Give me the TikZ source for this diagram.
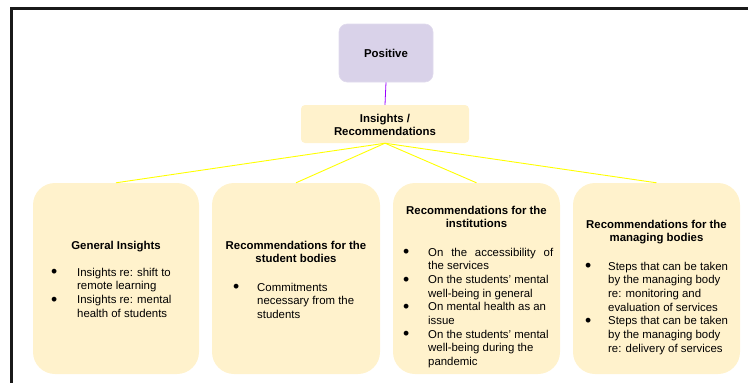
\documentclass[tikz,border=0pt]{standalone}
\usepackage{fontspec}
\setmainfont{Liberation Sans}
\usepackage{array}
\definecolor{lavender}{HTML}{D9D2E9}
\definecolor{cream}{HTML}{FFF2CC}
\definecolor{violetline}{HTML}{9900FF}
\definecolor{yellowline}{HTML}{FFFF00}
% a slightly heavier list bullet
\newcommand{\listdot}{\raisebox{-1.6pt}{\scalebox{1.55}{\textbullet}}}

\begin{document}
\begin{tikzpicture}[x=1pt,y=-1pt,
  txt/.style={font=\fontsize{11.4}{13.7}\selectfont, inner sep=0pt, text=black},
  ttl/.style={txt, font=\fontsize{11.4}{13.7}\selectfont\bfseries},
  topbox/.style={fill=lavender, draw=lavender!80, line width=0.6pt, rounded corners=8pt,
    minimum width=94pt, minimum height=58pt, inner sep=0pt},
  midbox/.style={fill=cream, rounded corners=4pt, minimum width=168pt, minimum height=38pt, inner sep=0pt},
  bigbox/.style={fill=cream, rounded corners=22pt, minimum height=191pt, inner sep=0pt},
  purplelink/.style={draw=violetline, line width=0.8pt},
  yellowlink/.style={draw=yellowline, line width=0.9pt}
]
\useasboundingbox (0,0) rectangle (748,383);

% outer frame
\draw[line width=3pt, black!90, line join=miter] (11,390) -- (11,8) -- (760,8);

% top of the tree
\node[topbox] (pos) at (386,53) {};
\node[ttl] (posT) at (386,53) {Positive};
\node[midbox] (ins) at (385,124) {};
\node[ttl, anchor=base] (insT) at (385,122)
  {\begin{tabular}[t]{@{}c@{}}Insights /\\Recommendations\end{tabular}};

% category boxes
\node[bigbox, minimum width=166pt] (b1) at (116,278.5) {};
\node[bigbox, minimum width=168pt] (b2) at (296,278.5) {};
\node[bigbox, minimum width=167pt] (b3) at (476.5,278.5) {};
\node[bigbox, minimum width=167pt] (b4) at (656.5,278.5) {};

% connectors
\draw[purplelink] (pos.south) -- (ins.north);
\foreach \b in {b1,b2,b3,b4}
  \draw[yellowlink] (ins.south) -- (\b.north);

% box 1
\node[ttl, anchor=base] (t1) at (116,249) {General Insights};
\node[txt, anchor=base west] (l1) at (51,276)
  {\begin{tabular}[t]{@{}p{26pt}@{}l@{}}
   \listdot & Insights re: shift to\\
            & remote learning\\
   \listdot & Insights re: mental\\
            & health of students
   \end{tabular}};

% box 2
\node[ttl, anchor=base] (t2) at (296,249)
  {\begin{tabular}[t]{@{}c@{}}Recommendations for the\\student bodies\end{tabular}};
\node[txt, anchor=base west] (l2) at (233,291)
  {\begin{tabular}[t]{@{}p{24pt}@{}l@{}}
   \listdot & Commitments\\
            & necessary from the\\
            & students
   \end{tabular}};

% box 3
\node[ttl, anchor=base] (t3) at (476.5,214)
  {\begin{tabular}[t]{@{}c@{}}Recommendations for the\\institutions\end{tabular}};
\node[txt, anchor=base west] (l3) at (403,256)
  {\begin{tabular}[t]{@{}p{25pt}@{}l@{}}
   \listdot & \makebox[125pt][s]{On the accessibility of}\\
            & the services\\
   \listdot & On the students' mental\\
            & well-being in general\\
   \listdot & On mental health as an\\
            & issue\\
   \listdot & On the students' mental\\
            & well-being during the\\
            & pandemic
   \end{tabular}};

% box 4
\node[ttl, anchor=base] (t4) at (656.5,228)
  {\begin{tabular}[t]{@{}c@{}}Recommendations for the\\managing bodies\end{tabular}};
\node[txt, anchor=base west] (l4) at (585,270)
  {\begin{tabular}[t]{@{}p{23pt}@{}l@{}}
   \listdot & Steps that can be taken\\
            & by the managing body\\
            & re: monitoring and\\
            & evaluation of services\\
   \listdot & Steps that can be taken\\
            & by the managing body\\
            & re: delivery of services
   \end{tabular}};
\end{tikzpicture}
\end{document}
